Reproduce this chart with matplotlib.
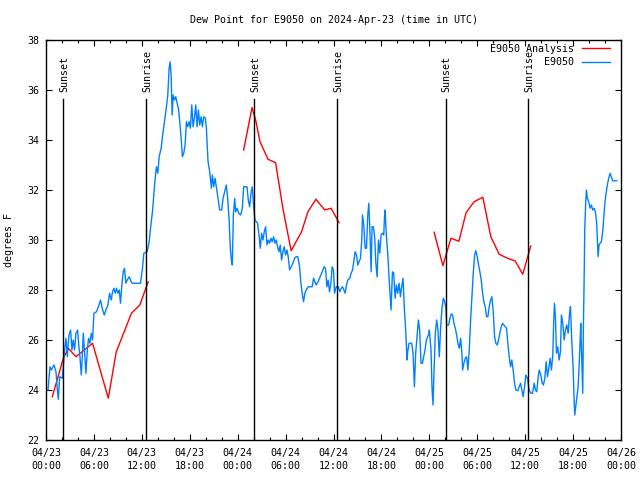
import matplotlib
matplotlib.use("Agg")
import matplotlib.pyplot as plt
import numpy as np

# ---- data (x = hours since 2024-04-23 00:00 UTC) ----
analysis_h1 = [0.79, 2.17, 2.8, 3.75, 5.83, 7.8, 8.8, 10.7, 11.75, 12.8]
analysis_v1 = [23.73, 25.27, 25.67, 25.33, 25.87, 23.67, 25.53, 27.07, 27.4, 28.33]
analysis_h2 = [24.75, 25.8, 26.25, 26.8, 27.8, 28.75, 29.7, 30.7, 32.0, 32.8, 33.8, 34.9, 35.7, 36.7]
analysis_v2 = [33.6, 35.3, 34.8, 33.93, 33.23, 33.09, 31.2, 29.57, 30.33, 31.13, 31.63, 31.2, 31.27, 30.69]
analysis_h3 = [48.6, 49.7, 50.7, 51.7, 52.6, 53.6, 54.7, 55.7, 56.75, 57.8, 58.75, 59.7, 60.7]
analysis_v3 = [30.31, 28.97, 30.07, 29.95, 31.09, 31.53, 31.71, 30.13, 29.43, 29.27, 29.16, 28.63, 29.76]

obs_h = [0.25, 0.5, 0.67, 1.0, 1.25, 1.42, 1.54, 1.71, 2.04, 2.17, 2.33, 2.5, 2.67, 2.875, 3.08, 3.25, 3.4, 3.58,
         3.75, 3.96, 4.08, 4.25, 4.42, 4.58, 4.67, 4.83, 5.0, 5.17, 5.33, 5.5, 5.67, 5.83, 6.0, 6.33, 6.63, 6.83,
         7.04, 7.29, 7.5, 7.75, 7.96, 8.17, 8.33, 8.5, 8.67, 8.83, 9.0, 9.17, 9.33, 9.5, 9.67, 9.83, 10.0, 10.17,
         10.42, 10.67, 10.83, 11.83, 12.04,
         12.08, 12.25, 12.67, 12.92, 13.13, 13.33, 13.5, 13.63, 13.83, 14.0, 14.17, 14.42, 14.58, 14.75, 14.92,
         15.08, 15.25, 15.42, 15.54, 15.67, 15.79, 15.92, 16.08, 16.25, 16.42, 16.58, 16.75, 16.92, 17.08, 17.25,
         17.42, 17.58, 17.75, 17.92, 18.08, 18.25, 18.42, 18.58, 18.75, 18.92, 19.08, 19.25, 19.42, 19.58, 19.75,
         19.96, 20.08, 20.29, 20.5, 20.71, 20.83, 21.0, 21.17, 21.33, 21.54, 21.75, 22.0, 22.17, 22.42, 22.58,
         22.75, 22.92, 23.08, 23.21, 23.33, 23.46, 23.63, 23.75, 23.92, 24.13, 24.38, 24.58,
         24.75, 25.17, 25.33, 25.5, 25.67, 25.83, 26.0, 26.17, 26.33, 26.5, 26.67, 26.83, 27.0, 27.17, 27.33,
         27.5, 27.67, 27.83, 28.0, 28.17, 28.33, 28.5, 28.67, 28.83, 29.0, 29.17, 29.33, 29.5, 29.67, 29.83,
         30.0, 30.17, 30.33, 30.5, 30.71, 30.92, 31.13, 31.33, 31.54, 31.75, 31.92, 32.08, 32.25, 32.42, 32.58,
         32.83, 33.08, 33.33, 33.5, 33.67, 33.83, 34.08, 34.33, 34.58, 34.83, 35.0, 35.17, 35.33, 35.5, 35.67,
         35.83, 36.0,
         36.13, 36.33, 36.6, 36.79, 36.96, 37.13, 37.29, 37.46, 37.63, 37.79, 38.04, 38.21, 38.38, 38.54, 38.71,
         38.88, 39.04, 39.21, 39.38, 39.54, 39.63, 39.79, 39.96, 40.13, 40.29, 40.42, 40.54, 40.71, 40.83, 41.0,
         41.17, 41.29, 41.46, 41.63, 41.79, 41.96, 42.13, 42.29, 42.38, 42.46, 42.63, 42.79, 42.96, 43.13, 43.21,
         43.38, 43.54, 43.71, 43.88, 44.04, 44.21, 44.38, 44.54, 44.71, 44.88, 45.04, 45.21, 45.29, 45.46, 45.79,
         45.96, 46.13, 46.29, 46.46, 46.63, 46.79, 46.96, 47.13, 47.29, 47.46, 47.63, 47.79, 47.96,
         48.0, 48.21, 48.33, 48.46, 48.58, 48.75, 48.92, 49.08, 49.25, 49.42, 49.58, 49.75, 49.92, 50.08, 50.17,
         50.42, 50.58, 50.75, 50.92, 51.08, 51.25, 51.42, 51.58, 51.75, 51.92, 52.08, 52.17, 52.33, 52.5, 52.67,
         52.83, 53.0, 53.17, 53.33, 53.5, 53.67, 53.83, 54.0, 54.17, 54.33, 54.5, 54.67, 54.83, 55.0, 55.17,
         55.33, 55.5, 55.67, 55.83, 56.0, 56.17, 56.33, 56.5, 56.67, 56.83, 57.0, 57.17, 57.33, 57.5, 57.67,
         57.83, 58.0, 58.17, 58.33, 58.5, 58.67, 58.83, 59.08, 59.25, 59.42, 59.58, 59.75, 59.92,
         60.08, 60.29, 60.5, 60.71, 60.92, 61.13, 61.29, 61.46, 61.63, 61.75, 61.96, 62.13, 62.29, 62.46, 62.63,
         62.79, 62.96, 63.13, 63.29, 63.46, 63.58, 63.67, 63.79, 63.92, 64.08, 64.25, 64.42, 64.54, 64.71, 64.88,
         65.04, 65.21, 65.38, 65.54, 65.67, 65.83, 66.0, 66.13, 66.21, 66.33, 66.46, 66.63, 66.75, 66.88, 66.96,
         67.08, 67.21, 67.29, 67.38, 67.46, 67.58, 67.67, 67.79, 67.96, 68.13, 68.29, 68.46, 68.63, 68.79, 68.96,
         69.13, 69.25, 69.38, 69.54, 69.71, 69.88, 70.0, 70.13, 70.29, 70.46, 70.63, 70.79, 70.96, 71.46]
obs_v = [24.0, 24.93, 24.8, 25.0, 24.73, 24.0, 23.63, 24.53, 24.47, 25.0, 25.6, 26.07, 25.33, 26.2, 26.4, 25.6, 26.0, 25.6,
         26.27, 26.4, 25.87, 25.33, 24.6, 25.6, 26.27, 25.47, 24.67, 25.6, 26.07, 25.87, 26.27, 26.0, 27.07, 27.13, 27.4, 27.6,
         27.27, 27.0, 27.2, 27.4, 27.87, 27.6, 27.93, 28.07, 27.87, 28.07, 27.87, 28.0, 27.47, 28.2, 28.73, 28.87, 28.27, 28.4,
         28.53, 28.33, 28.27, 28.27, 28.8,
         28.87, 29.47, 29.53, 29.93, 30.6, 31.13, 31.8, 32.33, 32.93, 32.67, 33.33, 33.67, 34.13, 34.53, 34.93,
         35.33, 35.8, 36.87, 37.13, 36.6, 35.0, 35.8, 35.6, 35.73, 35.47, 35.27, 34.73, 34.07, 33.33, 33.47,
         33.8, 34.73, 34.53, 34.73, 34.47, 35.4, 34.53, 34.87, 35.4, 34.53, 35.2, 34.6, 34.93, 34.53, 34.93,
         34.87, 34.47, 33.13, 32.73, 32.07, 32.6, 32.13, 32.47, 32.13, 31.67, 31.2, 31.2, 31.67, 32.0, 32.2,
         31.67, 30.87, 29.67, 29.2, 29.0, 31.0, 31.67, 31.13, 31.27, 31.07, 31.0, 31.27,
         32.13, 32.13, 31.6, 31.33, 31.87, 32.13, 31.33, 30.8, 30.73, 30.67, 30.2, 29.67, 30.27, 30.0, 30.33,
         30.53, 29.8, 30.0, 29.87, 30.07, 29.93, 30.13, 29.87, 30.0, 29.73, 29.53, 29.8, 29.2, 29.53, 29.73,
         29.4, 29.6, 29.33, 28.8, 28.93, 29.07, 29.27, 29.33, 29.33, 28.93, 28.27, 27.87, 27.53, 27.87, 28.0,
         28.13, 28.13, 28.13, 28.47, 28.33, 28.2, 28.33, 28.53, 28.73, 28.93, 28.87, 28.13, 28.4, 27.93, 28.27,
         28.93, 28.8,
         27.87, 28.13, 28.13, 27.93, 28.07, 28.13, 28.0, 27.87, 28.2, 28.4, 28.47, 28.67, 28.8, 29.13, 29.53,
         29.4, 29.0, 29.13, 29.27, 30.0, 31.0, 30.6, 29.67, 29.67, 31.0, 31.47, 30.53, 28.73, 30.53, 30.53,
         30.07, 29.13, 28.53, 30.0, 29.47, 30.2, 30.27, 30.2, 30.87, 31.2, 30.13, 29.47, 28.47, 27.6, 27.2,
         28.73, 28.67, 27.67, 28.2, 27.87, 28.27, 27.73, 28.13, 28.47, 27.2, 26.4, 25.2, 25.53, 25.87, 25.87,
         25.47, 24.13, 25.47, 26.13, 26.8, 26.4, 25.07, 25.07, 25.33, 25.6, 26.0, 26.13, 26.27,
         26.4, 25.6, 24.13, 23.4, 24.67, 26.27, 26.8, 26.4, 25.33, 26.53, 27.27, 27.67, 27.53, 27.27, 26.6,
         26.6, 26.87, 27.04, 27.0, 26.67, 26.47, 26.2, 25.87, 25.67, 26.07, 25.47, 24.8, 25.07, 25.27, 25.33,
         24.8, 25.6, 26.8, 27.67, 28.67, 29.4, 29.57, 29.33, 29.0, 28.73, 28.4, 27.87, 27.53, 27.33, 26.93,
         26.93, 27.33, 27.6, 27.73, 27.13, 26.13, 25.87, 25.8, 26.0, 26.27, 26.53, 26.67, 26.6, 26.53, 26.47,
         25.87, 25.33, 24.93, 25.2, 24.8, 24.27, 24.0, 23.97, 24.13, 24.27, 24.0, 23.73, 24.13,
         24.6, 24.47, 24.0, 23.87, 23.87, 24.27, 24.0, 23.93, 24.53, 24.8, 24.6, 24.27, 24.2, 24.47, 25.13,
         24.53, 24.87, 25.27, 24.8, 25.4, 26.8, 27.47, 26.93, 25.47, 25.73, 25.2, 25.53, 27.0, 26.67, 26.0,
         26.4, 26.6, 26.27, 27.0, 27.33, 26.0, 24.93, 23.6, 23.0, 23.33, 23.67, 24.13, 24.93, 25.93, 26.67,
         25.33, 23.87, 26.53, 28.33, 30.4, 31.47, 32.0, 31.67, 31.53, 31.27, 31.4, 31.2, 31.27, 31.13, 30.67,
         29.33, 29.8, 29.87, 29.93, 30.33, 31.07, 31.53, 31.87, 32.2, 32.47, 32.67, 32.53, 32.37, 32.37]

sun_h = [2.15, 12.55, 26.1, 36.5, 50.05, 60.4]
sun_labels = ["Sunset", "Sunrise", "Sunset", "Sunrise", "Sunset", "Sunrise"]

xtick_h = [0, 6, 12, 18, 24, 30, 36, 42, 48, 54, 60, 66, 72]
xtick_labels = ["04/23\n00:00", "04/23\n06:00", "04/23\n12:00", "04/23\n18:00",
                "04/24\n00:00", "04/24\n06:00", "04/24\n12:00", "04/24\n18:00",
                "04/25\n00:00", "04/25\n06:00", "04/25\n12:00", "04/25\n18:00",
                "04/26\n00:00"]
ytick_vals = [22, 24, 26, 28, 30, 32, 34, 36, 38]

FONT = "DejaVu Sans Mono"
FS = 7.2
RED = "#ff0000"
BLUE = "#0080ff"

plt.rcParams['font.family'] = FONT
fig = plt.figure(figsize=(6.4, 4.8), dpi=100)
ax = fig.add_axes([46/640, 40/480, 575/640, 400/480])

ax.plot(analysis_h1, analysis_v1, color=RED, lw=1.0, label="E9050 Analysis")
ax.plot(analysis_h2, analysis_v2, color=RED, lw=1.0)
ax.plot(analysis_h3, analysis_v3, color=RED, lw=1.0)
ax.plot(obs_h, obs_v, color=BLUE, lw=1.0, label="E9050")

for h, lab in zip(sun_h, sun_labels):
    ax.plot([h, h], [22, 35.64], color="black", lw=1.0)
    ax.text(h + 0.1, 35.92, lab, rotation=90, ha="center", va="bottom", fontsize=FS)

ax.set_xlim(0, 72)
ax.set_ylim(22, 38)
ax.set_xticks(xtick_h)
ax.set_xticklabels(xtick_labels, fontsize=FS, linespacing=1.3)
ax.set_xticks(np.arange(0, 73, 2), minor=True)
ax.set_yticks(ytick_vals)
ax.set_yticklabels([str(v) for v in ytick_vals], fontsize=FS)
ax.tick_params(axis="both", which="major", direction="in", length=4.5, width=0.8,
               top=True, right=True, pad=6)
ax.tick_params(axis="x", which="minor", direction="in", length=2.5, width=0.8, top=True)
ax.tick_params(axis="y", which="major", pad=4.5)
for s in ax.spines.values():
    s.set_linewidth(1.0)

ax.set_ylabel("degrees F", fontsize=FS, labelpad=10)
ax.set_title("Dew Point for E9050 on 2024-Apr-23 (time in UTC)", fontsize=FS, pad=12)

leg = ax.legend(loc="upper right", bbox_to_anchor=(0.988, 1.0), frameon=False, fontsize=FS,
                handlelength=2.8, markerfirst=False, borderaxespad=0.0, labelspacing=0.35,
                handletextpad=0.8)
for t in leg.get_texts():
    t.set_ha("right")

fig.savefig("out.png", dpi=100)
